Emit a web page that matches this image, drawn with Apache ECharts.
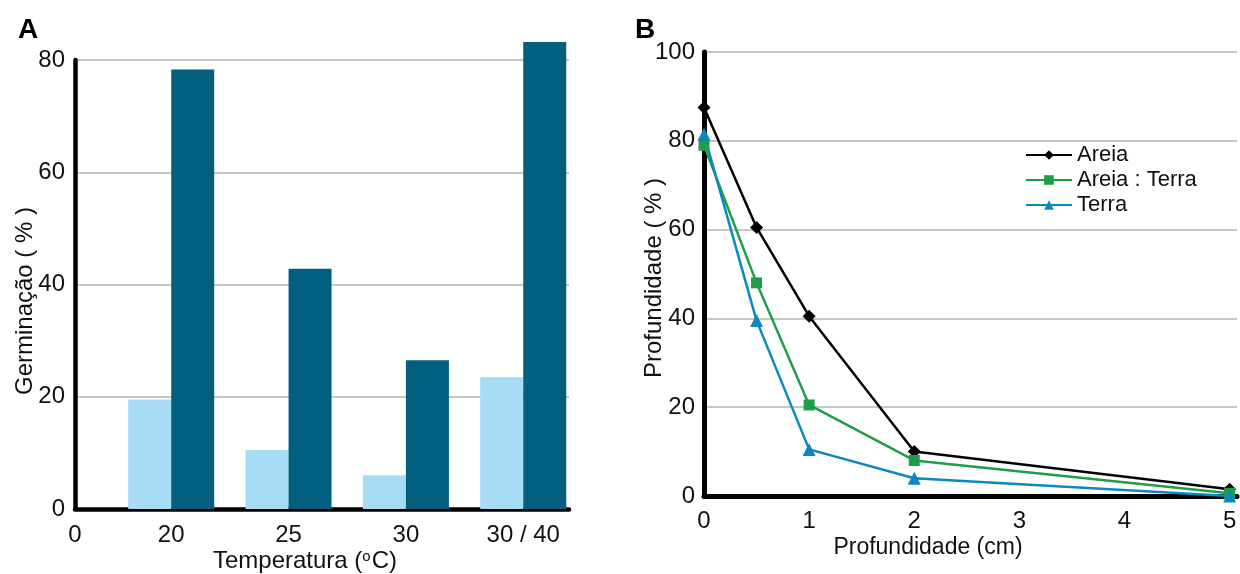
<!DOCTYPE html>
<html><head><meta charset="utf-8">
<script src="https://cdn.jsdelivr.net/npm/echarts@6/dist/echarts.min.js"></script>
<style>html,body{margin:0;padding:0;background:#fff}#c{width:1240px;height:574px}</style>
</head><body><div id="c"></div>
<script>
// Panel A data
const temps = ['20', '25', '30', '30 / 40'];
const germLight = [19.5, 10.5, 6, 23.5];
const germDark = [78.3, 42.8, 26.5, 83.2];
const yTicksA = [0, 20, 40, 60, 80];
// Panel B data
const depth = [0, 0.5, 1, 2, 5];
const areia = [87.5, 60.5, 40.5, 10, 1.5];
const areiaTerra = [79, 48, 20.5, 8, 0.6];
const terra = [81.5, 39.5, 10.5, 4, 0];
const xTicksB = [0, 1, 2, 3, 4, 5];

const FONT = '"Liberation Sans", Arial, sans-serif';
const grid = '#b3b3b3';
const TICK = 24;

const chart = echarts.init(document.getElementById('c'));
chart.setOption({
  animation: false,
  textStyle: {fontFamily: FONT},
  grid: [
    {left: 75, top: 60, width: 494, height: 449},
    {left: 704, top: 52, width: 536, height: 444}
  ],
  xAxis: [
    {gridIndex: 0, type: 'value', min: 0.18, max: 4.39,
     axisLine: {show: true, onZero: false, lineStyle: {color: '#000', width: 4.5}},
     axisTick: {show: false}, splitLine: {show: false},
     axisLabel: {customValues: [0.18, 1, 2, 3, 4], color: '#111', fontSize: TICK, fontFamily: FONT, margin: 14,
       formatter: v => v < 0.5 ? '0' : temps[Math.round(v) - 1]}},
    {gridIndex: 1, type: 'value', min: 0, max: 5.07, interval: 1,
     axisLine: {show: true, onZero: false, lineStyle: {color: '#000', width: 5}},
     axisTick: {show: false}, splitLine: {show: false},
     axisLabel: {color: '#111', fontSize: TICK, fontFamily: FONT, margin: 13,
       formatter: v => xTicksB.includes(v) ? String(v) : ''}}
  ],
  yAxis: [
    {gridIndex: 0, type: 'value', min: 0, max: 80, interval: 20,
     axisLine: {show: true, lineStyle: {color: '#000', width: 4.5}},
     axisTick: {show: false},
     splitLine: {show: true, lineStyle: {color: grid, width: 1.5}},
     axisLabel: {color: '#111', fontSize: TICK, fontFamily: FONT, margin: 10,
       formatter: v => yTicksA.includes(v) ? String(v) : ''}},
    {gridIndex: 1, type: 'value', min: 0, max: 100, interval: 20,
     axisLine: {show: true, lineStyle: {color: '#000', width: 5}},
     axisTick: {show: false},
     splitLine: {show: true, lineStyle: {color: grid, width: 1.5}},
     axisLabel: {color: '#111', fontSize: TICK, fontFamily: FONT, margin: 9}}
  ],
  legend: {
    orient: 'vertical', left: 1020, top: 139, itemWidth: 46, itemHeight: 12, itemGap: 3,
    textStyle: {fontSize: 22, color: '#111', fontFamily: FONT},
    data: ['Areia', 'Areia : Terra', 'Terra']
  },
  series: [
    {type: 'bar', name: 'light', xAxisIndex: 0, yAxisIndex: 0, barWidth: 43, barGap: '0%', clip: false,
     itemStyle: {color: '#a6dcf6'}, data: temps.map((c, i) => [i + 1, germLight[i]])},
    {type: 'bar', name: 'dark', xAxisIndex: 0, yAxisIndex: 0, barWidth: 43, barGap: '0%', clip: false,
     itemStyle: {color: '#025f7f'}, data: temps.map((c, i) => [i + 1, germDark[i]])},
    {type: 'line', name: 'Areia', xAxisIndex: 1, yAxisIndex: 1, symbol: 'diamond', symbolSize: 13,
     lineStyle: {color: '#000', width: 2.5}, itemStyle: {color: '#000'},
     data: depth.map((d, i) => [d, areia[i]])},
    {type: 'line', name: 'Areia : Terra', xAxisIndex: 1, yAxisIndex: 1, symbol: 'rect', symbolSize: 11,
     lineStyle: {color: '#1f9d48', width: 2.5}, itemStyle: {color: '#1f9d48'},
     data: depth.map((d, i) => [d, areiaTerra[i]])},
    {type: 'line', name: 'Terra', xAxisIndex: 1, yAxisIndex: 1, symbol: 'triangle', symbolSize: 13,
     lineStyle: {color: '#0b89bf', width: 2.5}, itemStyle: {color: '#0b89bf'},
     data: depth.map((d, i) => [d, terra[i]])}
  ],
  graphic: [
    {type: 'text', x: 18, y: 16, style: {text: 'A', font: 'bold 28px ' + FONT, fill: '#000'}},
    {type: 'text', x: 635, y: 16, style: {text: 'B', font: 'bold 28px ' + FONT, fill: '#000'}},
    {type: 'text', x: 25, y: 301, rotation: Math.PI / 2,
     style: {text: 'Germinação ( % )', font: '24px ' + FONT, fill: '#111', align: 'center', verticalAlign: 'middle', textAlign: 'center', textVerticalAlign: 'middle'}},
    {type: 'text', x: 654, y: 278, rotation: Math.PI / 2,
     style: {text: 'Profundidade ( % )', font: '24px ' + FONT, fill: '#111', align: 'center', verticalAlign: 'middle', textAlign: 'center', textVerticalAlign: 'middle'}},
    {type: 'text', x: 305, y: 561,
     style: {text: 'Temperatura ({sup|o}C)', font: '24px ' + FONT, fill: '#111', align: 'center', verticalAlign: 'middle', textAlign: 'center', textVerticalAlign: 'middle',
       rich: {sup: {fontSize: 15, fontFamily: FONT, fill: '#111', padding: [0, 1, 9, 0]}}}},
    {type: 'text', x: 928, y: 548,
     style: {text: 'Profundidade (cm)', font: '23px ' + FONT, fill: '#111', align: 'center', verticalAlign: 'middle', textAlign: 'center', textVerticalAlign: 'middle'}}
  ]
});
</script></body></html>
